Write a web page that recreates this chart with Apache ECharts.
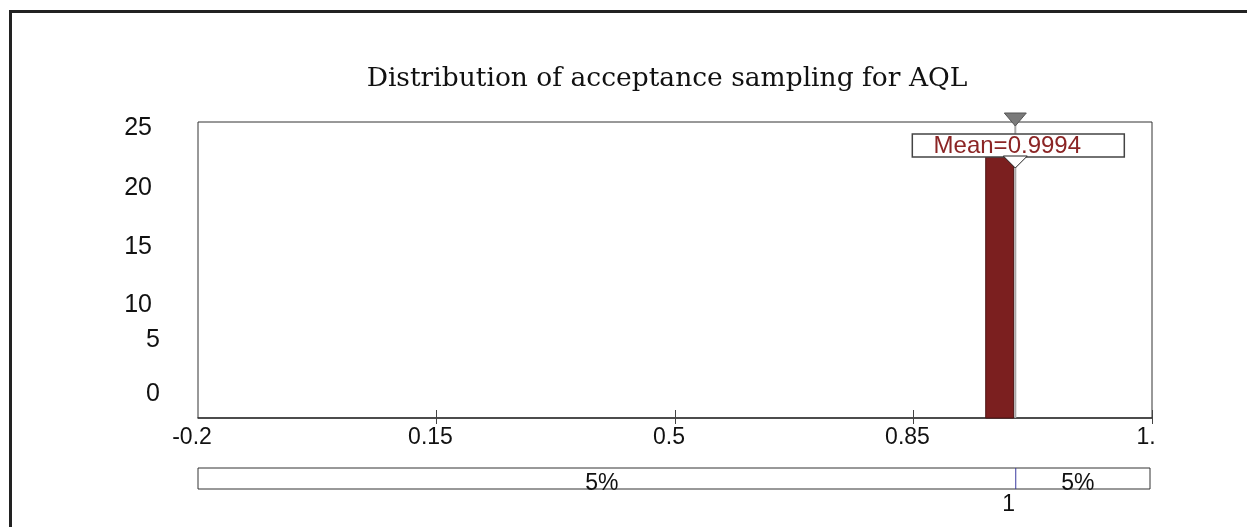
<!DOCTYPE html>
<html><head><meta charset="utf-8">
<script src="https://cdn.jsdelivr.net/npm/echarts@6/dist/echarts.min.js"></script>
<style>html,body{margin:0;padding:0;background:#fff}#c{width:1247px;height:527px}</style>
</head><body><div id="c"></div>
<script>
// ---- data ----
const chartTitle = 'Distribution of acceptance sampling for AQL';
const binStart = [0.956];
const binEnd = [0.997];
const binCount = [22.6];
const meanValue = 0.9994;
const xTickValues = [-0.2, 0.15, 0.5, 0.85, 1.2];
const xTickLabels = ['-0.2', '0.15', '0.5', '0.85', '1.'];
const yTickLabels = ['0', '5', '10', '15', '20', '25'];
const yMin = 0, yMax = 25;
const delimValues = [1, 1];
const delimLabels = ['1'];
const tailPercents = ['5%', '5%'];

// ---- layout (label placement as in the reference, axis units) ----
const yLabelAt = [2.0, 6.6, 9.5, 14.4, 19.4, 24.5];
const SANS = '"Liberation Sans", Arial, sans-serif';
const xMin = xTickValues[0], xMax = xTickValues[xTickValues.length - 1];

const chart = echarts.init(document.getElementById('c'), null, {renderer: 'canvas'});

const option = {
  animation: false,
  backgroundColor: '#fff',
  graphic: [
    {type: 'rect', left: 8, top: 9, shape: {x: 0, y: 0, width: 1300, height: 600},
     style: {fill: 'none', stroke: '#222', lineWidth: 3}, silent: true, z: -10},
    {type: 'text', x: 667, y: 79,
     style: {text: chartTitle, font: '26.5px "DejaVu Serif", serif', fill: '#111',
             align: 'center', verticalAlign: 'middle', textAlign: 'center', textVerticalAlign: 'middle'}}
  ],
  grid: [
    {left: 198, right: 95, top: 122, bottom: 109, show: true, borderColor: '#333', borderWidth: 1, containLabel: false},
    {left: 198, right: 97, top: 468, height: 21, show: true, borderColor: '#333', borderWidth: 1, containLabel: false}
  ],
  xAxis: [
    {type: 'value', gridIndex: 0, min: xMin, max: xMax, interval: 0.35,
     axisLine: {show: true, lineStyle: {color: '#333', width: 1.5}},
     axisTick: {show: true, length: 6, customValues: xTickValues.slice(1), lineStyle: {color: '#444'}},
     axisLabel: {show: true, customValues: xTickValues, margin: 8, color: '#111',
                 fontFamily: SANS, fontSize: 23, padding: [0, 12, 0, 0],
                 formatter: v => xTickLabels[xTickValues.indexOf(v)]},
     splitLine: {show: false}},
    {type: 'value', gridIndex: 0, min: xMin, max: xMax, position: 'bottom',
     axisLine: {show: false},
     axisTick: {show: true, inside: true, length: 8, customValues: xTickValues.slice(1), lineStyle: {color: '#444'}},
     axisLabel: {show: false}, splitLine: {show: false}},
    {type: 'value', gridIndex: 1, min: xMin, max: 1.197, show: false}
  ],
  yAxis: [
    {type: 'value', gridIndex: 0, min: yMin, max: yMax,
     axisLine: {show: false}, axisTick: {show: false}, splitLine: {show: false},
     axisLabel: {show: true, customValues: yLabelAt, margin: 38, color: '#111',
                 fontFamily: SANS, fontSize: 25,
                 formatter: v => {
                   const t = yTickLabels[yLabelAt.indexOf(v)];
                   return t.length > 1 ? '{two|' + t + '}' : '{one|' + t + '}';
                 },
                 rich: {two: {fontFamily: SANS, fontSize: 25, color: '#111', padding: [0, 8, 0, 0]},
                        one: {fontFamily: SANS, fontSize: 25, color: '#111'}}}},
    {type: 'value', gridIndex: 1, min: 0, max: 1, show: false}
  ],
  series: [
    {
      type: 'custom', name: 'histogram', xAxisIndex: 0, yAxisIndex: 0,
      data: binStart.map((s, i) => [s, binEnd[i], binCount[i]]),
      encode: {x: [0, 1], y: 2},
      renderItem: (params, api) => {
        const p0 = api.coord([api.value(0), api.value(2)]);
        const p1 = api.coord([api.value(1), 0]);
        return {type: 'rect', shape: {x: p0[0], y: p0[1], width: p1[0] - p0[0], height: p1[1] - p0[1]},
                style: {fill: '#7b1f1f', stroke: '#4d1212', lineWidth: 1}};
      }
    },
    {
      type: 'custom', name: 'mean', xAxisIndex: 0, yAxisIndex: 0, z: 5,
      data: [[meanValue, yMax]],
      encode: {x: 0, y: 1},
      renderItem: (params, api) => {
        const top = api.coord([api.value(0), yMax]);
        const bot = api.coord([api.value(0), yMin]);
        const x = top[0], y0 = top[1];
        return {type: 'group', children: [
          {type: 'line', shape: {x1: x, y1: y0, x2: x, y2: bot[1]}, style: {stroke: '#a8a8a8', lineWidth: 2}},
          {type: 'polygon', shape: {points: [[x - 11, y0 - 9], [x + 11, y0 - 9], [x, y0 + 4]]},
           style: {fill: '#7a7a7a', stroke: '#555', lineWidth: 1}},
          {type: 'rect', shape: {x: x - 103, y: y0 + 12, width: 212, height: 23},
           style: {fill: '#fff', stroke: '#444', lineWidth: 1.5}},
          {type: 'text', style: {x: x - 8, y: y0 + 24, text: 'Mean=' + meanValue,
            align: 'center', verticalAlign: 'middle', textAlign: 'center', textVerticalAlign: 'middle',
            fill: '#8b2525', font: '24px ' + SANS}},
          {type: 'polygon', shape: {points: [[x - 12, y0 + 34], [x + 12, y0 + 34], [x, y0 + 46]]},
           style: {fill: '#fff', stroke: '#222', lineWidth: 1}}
        ]};
      }
    },
    {
      type: 'custom', name: 'delimiters', xAxisIndex: 2, yAxisIndex: 1,
      data: [[delimValues[0], delimValues[1]]],
      encode: {x: [0, 1]},
      renderItem: (params, api) => {
        const lo = api.value(0), hi = api.value(1);
        const a = api.coord([lo, 1]), b = api.coord([lo, 0]);
        const lm = api.coord([(xMin + lo) / 2, 0.5]);
        const rm = api.coord([(hi + xMax) / 2, 0.5]);
        const txt = (x, y, t) => ({type: 'text', style: {x: x, y: y, text: t,
          align: 'center', verticalAlign: 'middle', textAlign: 'center', textVerticalAlign: 'middle',
          fill: '#111', font: '23px ' + SANS}});
        return {type: 'group', children: [
          txt(lm[0] - 5, lm[1] + 5, tailPercents[0]),
          txt(rm[0] - 6, rm[1] + 5, tailPercents[1]),
          {type: 'line', shape: {x1: a[0], y1: a[1], x2: b[0], y2: b[1]}, style: {stroke: '#3a3aa0', lineWidth: 1}},
          txt(b[0] - 7, b[1] + 16, delimLabels[0])
        ]};
      }
    }
  ]
};
chart.setOption(option);
</script>
</body></html>
